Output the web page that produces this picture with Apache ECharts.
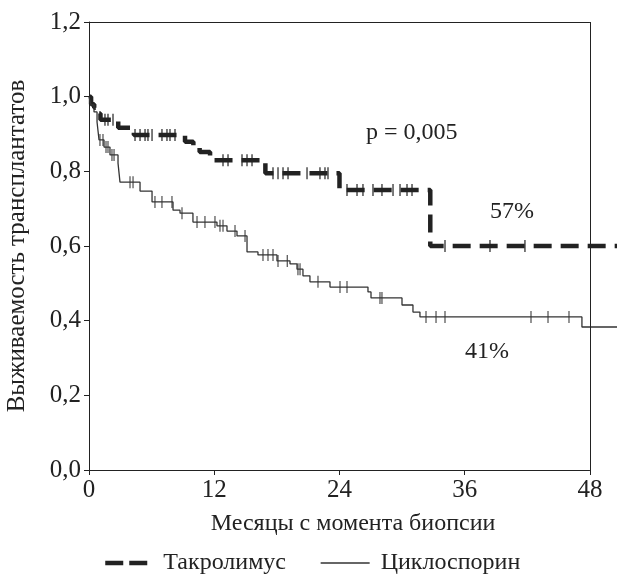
<!DOCTYPE html>
<html>
<head>
<meta charset="utf-8"/>
<script src="https://cdn.jsdelivr.net/npm/echarts@6/dist/echarts.min.js"></script>
<style>
  html, body { margin: 0; padding: 0; background: #fff; }
  #main { width: 617px; height: 581px; }
</style>
</head>
<body>
<div id="main"></div>
<script type="text/javascript">
// Такролимус: [месяц, выживаемость] - ступени
var takroSteps = [
  [0, 1.0], [0.2, 0.98], [0.5, 0.97], [0.8, 0.955], [1.1, 0.938],
  [2.8, 0.917], [4.3, 0.897], [9.2, 0.879], [10.0, 0.865], [10.6, 0.852],
  [11.6, 0.830], [16.9, 0.795], [24.0, 0.750], [32.7, 0.600], [50.6, 0.600]
];
// Такролимус: цензурированные наблюдения
var takroCens = [
  [1.53, 0.938], [1.82, 0.938], [2.30, 0.938],
  [4.41, 0.897], [4.89, 0.897], [5.37, 0.897], [5.65, 0.897], [6.04, 0.897],
  [6.99, 0.897], [7.47, 0.897], [7.76, 0.897], [8.24, 0.897],
  [12.84, 0.830], [13.32, 0.830], [14.66, 0.830], [15.14, 0.830], [15.62, 0.830],
  [17.63, 0.795], [18.11, 0.795], [18.59, 0.795], [19.07, 0.795], [20.89, 0.795],
  [22.13, 0.795], [22.61, 0.795], [22.90, 0.795],
  [24.72, 0.750], [25.68, 0.750], [26.25, 0.750], [27.21, 0.750], [28.07, 0.750],
  [29.13, 0.750], [29.80, 0.750], [30.47, 0.750], [30.95, 0.750],
  [34.11, 0.600], [38.42, 0.600], [41.77, 0.600]
];
// Циклоспорин
var cycloSteps = [
  [0, 1.0], [0.19, 0.978], [0.48, 0.959], [0.77, 0.932], [0.96, 0.884],
  [1.44, 0.865], [2.01, 0.844], [2.78, 0.822], [2.97, 0.771], [4.89, 0.747],
  [6.04, 0.718], [8.05, 0.696], [8.72, 0.688], [9.96, 0.664], [12.26, 0.654],
  [13.22, 0.640], [14.18, 0.627], [15.14, 0.584], [16.19, 0.576], [18.01, 0.560],
  [19.26, 0.552], [19.93, 0.538], [20.50, 0.520], [21.17, 0.504], [23.09, 0.490],
  [26.73, 0.477], [27.02, 0.461], [29.99, 0.442], [31.04, 0.423], [31.71, 0.410],
  [47.23, 0.383], [50.6, 0.383]
];
var cycloCens = [
  [1.05, 0.884], [1.34, 0.884], [1.63, 0.865], [1.82, 0.865], [2.2, 0.844], [2.4, 0.844],
  [3.93, 0.771], [4.22, 0.771], [6.32, 0.718], [6.99, 0.718], [7.95, 0.718],
  [8.91, 0.688], [10.35, 0.664], [11.11, 0.664], [12.07, 0.664], [12.55, 0.654],
  [12.84, 0.654], [13.99, 0.640], [14.95, 0.627], [16.67, 0.576], [17.15, 0.576],
  [17.63, 0.576], [18.11, 0.560], [19.0, 0.560], [20.02, 0.538], [20.22, 0.538],
  [21.94, 0.504], [24.05, 0.490], [24.72, 0.490], [27.88, 0.461], [28.07, 0.461],
  [32.29, 0.410], [33.25, 0.410], [34.11, 0.410], [42.35, 0.410], [43.98, 0.410],
  [45.99, 0.410]
];
var xTicks = [0, 12, 24, 36, 48];
var seriesNames = ['Такролимус', 'Циклоспорин'];

var font = 'Liberation Serif';
var ink = '#222';
var myChart = echarts.init(document.getElementById('main'));

var frame = [
  [{ coord: [0, 1.2] }, { coord: [48, 1.2] }],
  [{ coord: [48, 0] }, { coord: [48, 1.2] }],
  [{ coord: [0, 0] }, { coord: [48, 0] }]
];

var options = {
  animation: false,
  textStyle: { fontFamily: font },
  grid: { left: 89, right: 0, top: 22, bottom: 111, outerBoundsMode: 'none', containLabel: false },
  legend: [{
    data: [{ name: seriesNames[0], itemStyle: { opacity: 0 },
             lineStyle: { color: ink, width: 4.5, type: [18, 6] } }],
    left: 103, top: 551, padding: 0, itemWidth: 42, itemHeight: 12,
    textStyle: { fontFamily: font, fontSize: 24, color: ink, padding: [0, 0, 0, 11] }
  }, {
    data: [{ name: seriesNames[1], itemStyle: { opacity: 0 },
             lineStyle: { color: '#333', width: 1.3, type: 'solid' } }],
    left: 320, top: 551, padding: 0, itemWidth: 49, itemHeight: 12,
    textStyle: { fontFamily: font, fontSize: 24, color: ink, padding: [0, 0, 0, 6] }
  }],
  xAxis: {
    type: 'value', min: 0, max: 50.59, interval: 12,
    name: 'Месяцы с момента биопсии', nameLocation: 'middle', nameGap: 42,
    nameTextStyle: { fontFamily: font, fontSize: 24, color: ink },
    axisLine: { show: false },
    axisTick: { show: true, length: 5, customValues: xTicks, lineStyle: { color: ink } },
    axisLabel: { fontFamily: font, fontSize: 25, color: ink, margin: 8, customValues: xTicks },
    splitLine: { show: false }
  },
  yAxis: {
    type: 'value', min: 0, max: 1.2, interval: 0.2,
    name: 'Выживаемость трансплантатов', nameLocation: 'middle', nameGap: 59,
    nameTextStyle: { fontFamily: font, fontSize: 25, color: ink },
    axisLine: { show: true, lineStyle: { color: ink, width: 1 } },
    axisTick: { show: true, length: 5, lineStyle: { color: ink } },
    axisLabel: { fontFamily: font, fontSize: 25, color: ink, margin: 8,
                 formatter: function (v) { return v.toFixed(1).replace('.', ','); } },
    splitLine: { show: false }
  },
  series: [{
    name: seriesNames[0], type: 'line', step: 'end', data: takroSteps,
    symbol: 'none',
    lineStyle: { color: ink, width: 4.5, type: [18, 9] },
    itemStyle: { color: ink }
  }, {
    name: seriesNames[1], type: 'line', step: 'end', data: cycloSteps,
    symbol: 'none',
    lineStyle: { color: '#333', width: 1.3 },
    itemStyle: { color: '#333' }
  }, {
    name: 'takroCens', type: 'scatter', data: takroCens,
    symbol: 'rect', symbolSize: [1.5, 12],
    itemStyle: { color: ink },
    markLine: {
      silent: true, symbol: 'none', label: { show: false },
      lineStyle: { color: ink, width: 1, type: 'solid' },
      data: frame
    }
  }, {
    name: 'cycloCens', type: 'scatter', data: cycloCens,
    symbol: 'rect', symbolSize: [1.3, 12],
    itemStyle: { color: '#333' }
  }],
  graphic: [
    { type: 'text', left: 366, top: 121, style: { text: 'p = 0,005', fontFamily: font, fontSize: 24, fill: ink } },
    { type: 'text', left: 490, top: 200, style: { text: '57%', fontFamily: font, fontSize: 24, fill: ink } },
    { type: 'text', left: 465, top: 340, style: { text: '41%', fontFamily: font, fontSize: 24, fill: ink } }
  ]
};
myChart.setOption(options);
</script>
</body>
</html>
